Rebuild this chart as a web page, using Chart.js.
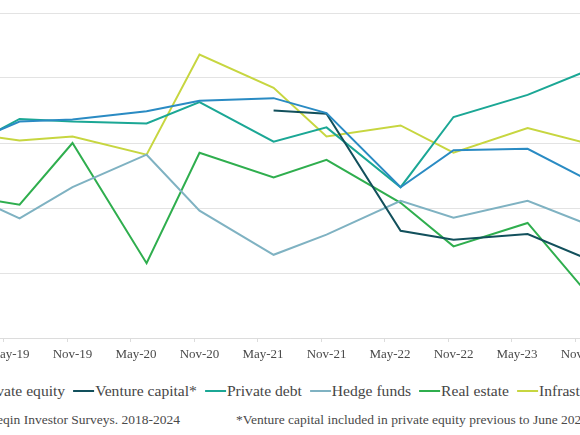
<!DOCTYPE html>
<html>
<head>
<meta charset="utf-8">
<script src="https://cdn.jsdelivr.net/npm/chart.js@4.4.1/dist/chart.umd.min.js"></script>
<style>
  html, body { margin: 0; padding: 0; background: #fff; }
  #wrap { position: relative; width: 580px; height: 435px; overflow: hidden; background: #fff; }
  #plot { position: absolute; left: -60px; top: 0; width: 700px; height: 370px; }
  #legend { position: absolute; top: 381px; left: 50%; transform: translateX(-50%);
            white-space: nowrap; font-family: 'Liberation Serif', serif; font-size: 15.6px;
            line-height: 20px; color: #464646; }
  #legend .item { margin-left: 8px; }
  #legend .item:first-child { margin-left: 0; }
  #legend i { display: inline-block; width: 21px; height: 2.5px; margin-right: 1px; vertical-align: 3.9px; }
  .foot { position: absolute; top: 412px; white-space: nowrap; font-family: 'Liberation Serif', serif;
          font-size: 13.5px; line-height: 16px; color: #4a4a4a; }
  #footL { right: 400px; }
  #footR { left: 236px; }
</style>
</head>
<body>
<div id="wrap">
  <div id="plot"><canvas id="c"></canvas></div>
  <div id="legend"></div>
  <div class="foot" id="footL">Source: Preqin Investor Surveys. 2018-2024</div>
  <div class="foot" id="footR">*Venture capital included in private equity previous to June 2021</div>
</div>
<script>
// Survey dates (semi-annual) and tick labels
const surveys = ['Nov-18','Jun-19','Nov-19','Jun-20','Nov-20','Jun-21','Nov-21','Jun-22','Nov-22','Jun-23','Nov-23'];
const tickLabels = ['May-19','Nov-19','May-20','Nov-20','May-21','Nov-21','May-22','Nov-22','May-23','Nov-23'];

// Series values (%)
const privateEquity  = [28.5, 33.3, 33.6, 34.9, 36.5, 36.9, 34.6, 23.2, 28.9, 29.1, 24.9];
const ventureCapital = [null, null, null, null, null, 35.0, 34.5, 16.5, 15.1, 16.0, 12.6];
const privateDebt    = [27.7, 33.7, 33.3, 33.0, 36.3, 30.2, 32.4, 23.2, 34.0, 37.4, 40.7];
const hedgeFunds     = [23.6, 18.4, 23.2, 28.2, 19.6, 12.8, 15.9, 21.1, 18.5, 21.1, 17.9];
const realEstate     = [22.4, 20.5, 30.0, 11.5, 28.5, 24.7, 27.4, 20.8, 14.1, 17.7, 8.1];
const infrastructure = [31.9, 30.4, 31.0, 28.2, 43.6, 38.5, 31.0, 32.7, 28.5, 32.3, 30.2];

const seriesNames  = ['Private equity','Venture capital*','Private debt','Hedge funds','Real estate','Infrastructure'];
const seriesValues = [privateEquity, ventureCapital, privateDebt, hedgeFunds, realEstate, infrastructure];
const seriesColors = ['#2a8bc3','#12505c','#1ba795','#7fb2c2','#2fae4e','#c7d640'];

// visible window of the time axis (months since Jan-2019)
const xMin = 3.65, xMax = 58.45;

const MONTHS = {Jan:0,Feb:1,Mar:2,Apr:3,May:4,Jun:5,Jul:6,Aug:7,Sep:8,Oct:9,Nov:10,Dec:11};
function monthStart(s) { const [m, y] = s.split('-'); return (2000 + (+y) - 2019) * 12 + MONTHS[m]; }
function midMonth(s) { return monthStart(s) + 0.5; }

const datasets = seriesNames.map((name, k) => ({
  label: name,
  data: seriesValues[k].map((v, i) => ({ x: midMonth(surveys[i]), y: v })),
  borderColor: seriesColors[k],
  backgroundColor: seriesColors[k],
  borderWidth: 2,
  pointRadius: 0,
  tension: 0,
  fill: false
}));

// HTML legend
const lg = document.getElementById('legend');
seriesNames.forEach((n, k) => {
  const s = document.createElement('span');
  s.className = 'item';
  const i = document.createElement('i');
  i.style.background = seriesColors[k];
  s.appendChild(i);
  s.appendChild(document.createTextNode(n));
  lg.appendChild(s);
});

new Chart(document.getElementById('c'), {
  type: 'line',
  data: { datasets },
  options: {
    responsive: true,
    maintainAspectRatio: false,
    animation: false,
    layout: { padding: { left: 60, right: 60, top: 13, bottom: 0 } },
    plugins: { legend: { display: false }, tooltip: { enabled: false } },
    scales: {
      x: {
        type: 'linear',
        min: xMin, max: xMax,
        afterBuildTicks: (scale) => { scale.ticks = tickLabels.map(l => ({ value: monthStart(l) })); },
        afterFit: (scale) => { scale.height = 32; },
        grid: { display: true, drawOnChartArea: false, drawTicks: true, tickLength: 4, color: '#dcdcdc' },
        border: { display: true, color: '#dcdcdc', width: 1 },
        ticks: {
          autoSkip: false, maxRotation: 0, minRotation: 0, padding: 5, labelOffset: 5.3,
          color: '#4a4a4a', font: { family: 'Liberation Serif', size: 13 },
          callback: (v) => { const i = tickLabels.findIndex(l => monthStart(l) === v); return i >= 0 ? tickLabels[i] : ''; }
        }
      },
      y: {
        min: 0, max: 50,
        ticks: { display: false, stepSize: 10 },
        grid: { color: '#e3e3e3', drawTicks: false },
        border: { display: false }
      }
    }
  }
});
</script>
</body>
</html>
